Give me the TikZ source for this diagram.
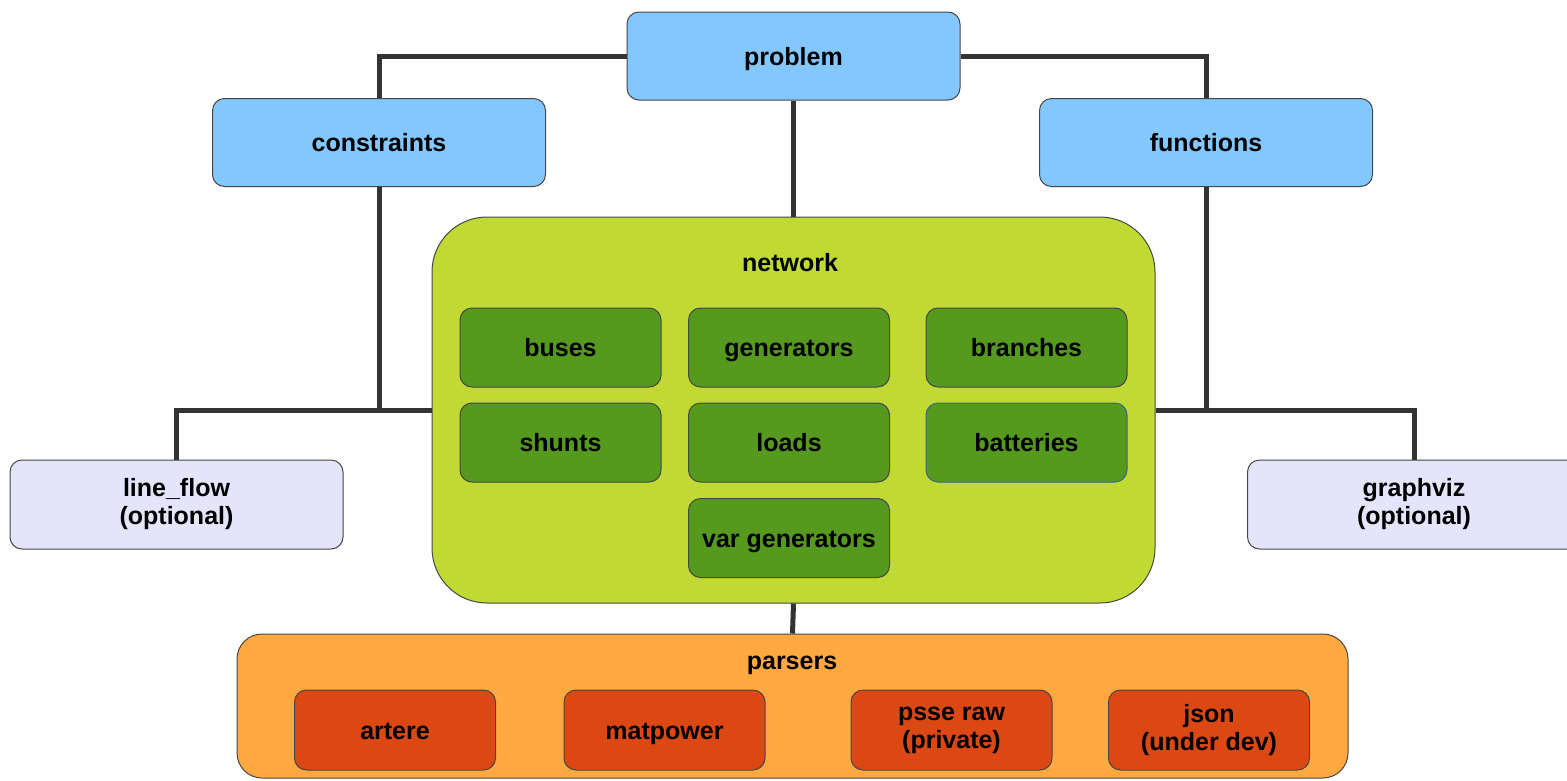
\documentclass[tikz,border=0pt]{standalone}
\usepackage{fontspec}
\setmainfont{Liberation Sans}
\definecolor{skyblue}{RGB}{130,200,255}
\definecolor{netgreen}{RGB}{192,217,51}
\definecolor{darkgreen}{RGB}{85,154,30}
\definecolor{lavender}{RGB}{228,228,250}
\definecolor{parsorange}{RGB}{255,169,64}
\definecolor{parsred}{RGB}{220,72,20}
\definecolor{bordergray}{RGB}{70,70,70}
\definecolor{linegray}{RGB}{51,51,51}
\definecolor{battborder}{RGB}{60,100,140}
\tikzset{
  box/.style={draw=bordergray, line width=1pt, rounded corners=12pt, inner sep=0pt, align=center,
    font=\bfseries\fontsize{25}{28}\selectfont, text=black},
  single/.style={text height=20pt, text depth=2pt},
  topbox/.style={box, single, fill=skyblue, minimum width=333pt, minimum height=88pt},
  optbox/.style={box, fill=lavender, minimum width=333pt, minimum height=89pt},
  compbox/.style={box, single, fill=darkgreen, minimum width=201pt, minimum height=79pt},
  parsbox/.style={box, fill=parsred, minimum width=201pt, minimum height=80pt},
  title/.style={font=\bfseries\fontsize{25}{28}\selectfont, text=black, inner sep=0pt, single},
  conn/.style={line width=5pt, draw=linegray}
}
\begin{document}
\begin{tikzpicture}[x=1pt,y=-1pt]
\useasboundingbox (0,0) rectangle (1567,780);
% top level
\node[topbox] (problem) at (793.5,56) {problem};
\node[topbox] (constraints) at (379,142.5) {constraints};
\node[topbox] (functions) at (1206,142.5) {functions};
% network container
\node[draw=bordergray, line width=1pt, fill=netgreen, rounded corners=55pt, minimum width=723pt, minimum height=386pt, inner sep=0pt] (network) at (793.5,410) {};
\node[title] (networklabel) at (790,262) {network};
\node[compbox] (buses) at (560.5,347.5) {buses};
\node[compbox] (generators) at (789,347.5) {generators};
\node[compbox] (branches) at (1026.5,347.5) {branches};
\node[compbox] (shunts) at (560.5,442.5) {shunts};
\node[compbox] (loads) at (789,442.5) {loads};
\node[compbox, draw=battborder] (batteries) at (1026.5,442.5) {batteries};
\node[compbox] (vargen) at (789,538) {var generators};
% optional
\node[optbox] (lineflow) at (176.5,504.5) {line\_flow\\(optional)};
\node[optbox] (graphviz) at (1414,504.5) {graphviz\\(optional)};
% parsers container
\node[draw=bordergray, line width=1pt, fill=parsorange, rounded corners=25pt, minimum width=1111pt, minimum height=144pt, inner sep=0pt] (parsers) at (792.5,706) {};
\node[title] (parserslabel) at (792,660) {parsers};
\node[parsbox, single] (artere) at (395,730) {artere};
\node[parsbox, single] (matpower) at (664.5,730) {matpower};
\node[parsbox] (psse) at (951.5,730) {psse raw\\(private)};
\node[parsbox] (json) at (1209,730) {json\\(under dev)};
% connectors
\draw[conn] (problem.west) -| (constraints.north);
\draw[conn] (problem.east) -| (functions.north);
\draw[conn] (problem.south) -- (network.north);
\draw[conn] (constraints.south) -- (constraints.south |- network.west);
\draw[conn] (network.west) -| (lineflow.north);
\draw[conn] (functions.south) -- (functions.south |- network.east);
\draw[conn] (network.east) -| (graphviz.north);
\draw[conn] (network.south) -- (parsers.north);
\end{tikzpicture}
\end{document}
